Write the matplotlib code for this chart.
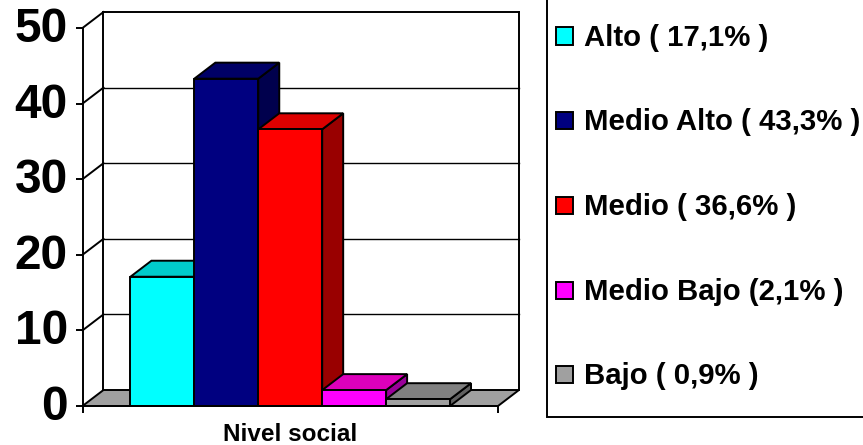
import matplotlib
matplotlib.use('Agg')
import matplotlib.pyplot as plt
from matplotlib.patches import Polygon, Rectangle
from matplotlib.transforms import ScaledTranslation

categories = ['Alto', 'Medio Alto', 'Medio', 'Medio Bajo', 'Bajo']
values = [17.1, 43.3, 36.6, 2.1, 0.9]
legend_labels = ['Alto ( 17,1% )', 'Medio Alto ( 43,3% )', 'Medio ( 36,6% )',
                 'Medio Bajo (2,1% )', 'Bajo ( 0,9% )']
y_ticks = [0, 10, 20, 30, 40, 50]
axis_title = 'Nivel social'

front = ['#00FFFF', '#000080', '#FF0000', '#FF00FF', '#A0A0A0']
top = ['#00CCCC', '#000066', '#DD0000', '#DD00BB', '#808080']
side = ['#009999', '#00004D', '#990000', '#990099', '#606060']

W, H = 863, 445
plt.rcParams['font.family'] = ['Liberation Sans', 'DejaVu Sans']
fig = plt.figure(figsize=(W / 100, H / 100), dpi=100)

# axes box = the front plane of the 3d chart, in pixels
left, right, y0, y50 = 82.5, 498, 406, 28
ax = fig.add_axes([left / W, 1 - y0 / H, (right - left) / W, (y0 - y50) / H])
ax.set_xlim(-0.75, 5.75)
ax.set_ylim(0, 50)
ax.patch.set_visible(False)

dx = 21 / 64
dy = 16 / 7.56
x0, x1 = -0.75, 5.75
lw = 1.4

# floor and walls
ax.add_patch(Polygon([(x0, 0), (x0 + dx, dy), (x1 + dx, dy), (x1, 0)], closed=True,
                     fc='#A0A0A0', ec='black', lw=lw, clip_on=False, zorder=1))
ax.plot([x0 + dx, x0 + dx], [dy, 50 + dy], color='black', lw=lw, clip_on=False, zorder=1)
ax.plot([x1 + dx, x1 + dx], [dy, 50 + dy], color='black', lw=lw, clip_on=False, zorder=1)
for t in y_ticks:
    if t > 0:
        ax.plot([x0, x0 + dx], [t, t + dy], color='black', lw=lw, clip_on=False, zorder=1)
        ax.plot([x0 + dx, x1 + dx], [t + dy, t + dy], color='black', lw=lw if t == 50 else 1.0,
                clip_on=False, zorder=1)

# bars, left to right so each one sits over the side of the previous
for i, v in enumerate(values):
    z = 2 + i
    ax.add_patch(Polygon([(i + 1, 0), (i + 1 + dx, dy), (i + 1 + dx, v + dy), (i + 1, v)], closed=True,
                         fc=side[i], ec='black', lw=lw, clip_on=False, zorder=z))
    ax.add_patch(Polygon([(i, v), (i + dx, v + dy), (i + 1 + dx, v + dy), (i + 1, v)], closed=True,
                         fc=top[i], ec='black', lw=lw, clip_on=False, zorder=z))
    ax.bar(i, v, width=1, align='edge', color=front[i], edgecolor='black', lw=lw, clip_on=False, zorder=z)

for s in ['top', 'right']:
    ax.spines[s].set_visible(False)
for s in ['left', 'bottom']:
    ax.spines[s].set_linewidth(lw)
    ax.spines[s].set_zorder(10)
ax.set_yticks(y_ticks)
ax.set_xticks([x0, x1])
ax.set_xticklabels(['', ''])
ax.tick_params(axis='y', length=5, width=lw, labelsize=34.5, pad=5.5)
ax.tick_params(axis='x', length=5, width=lw)
# tick labels sit a little above their ticks in the reference
shift = ScaledTranslation(0, 2.5 / 72, fig.dpi_scale_trans)
for lab in ax.get_yticklabels():
    lab.set_fontweight('bold')
    lab.set_transform(lab.get_transform() + shift)
fig.text(290 / W, 1 - 434.5 / H, axis_title, ha='center', va='center', fontsize=17.5, fontweight='bold')

# legend box runs off the top and right of the picture
fig.add_artist(Rectangle((547 / W, 1 - 417 / H), (W + 20 - 547) / W, (417 + 20) / H,
                         transform=fig.transFigure, fc='white', ec='black', lw=lw))
rows = [36, 120.5, 205, 290, 374]
for i, lab in enumerate(legend_labels):
    fig.add_artist(Rectangle((556 / W, 1 - (rows[i] + 8.5) / H), 17 / W, 17 / H,
                             transform=fig.transFigure, fc=front[i], ec='black', lw=lw))
    fig.text(584 / W, 1 - (rows[i] + 2) / H, lab, ha='left', va='center', fontsize=21.2, fontweight='bold')

fig.savefig('out.png', dpi=100)
